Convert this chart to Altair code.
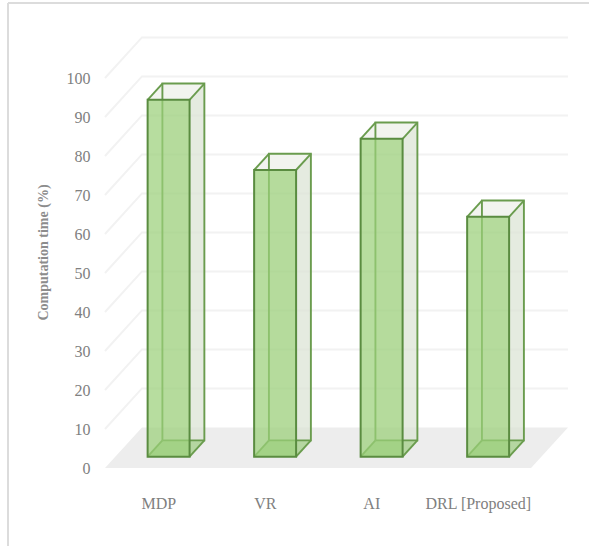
import altair as alt
import pandas as pd

# Chart values
categories = ["MDP", "VR", "AI", "DRL [Proposed]"]
computation_time = [91.5, 73.5, 81.5, 61.5]
value_ticks = [0, 10, 20, 30, 40, 50, 60, 70, 80, 90, 100]

# Oblique 3D projection, expressed in data units
DEPTH_X = 0.347      # category units gained across the full floor depth
DEPTH_Y = 10.4       # percent units gained across the full floor depth
FRONT, BACK = 0.28, 0.68   # depth span of a column
HALF = 0.197         # half a column's width, in category units
N = len(categories)


def px(u, d):
    return u + d * DEPTH_X


def py(v, d):
    return v + d * DEPTH_Y


axis_font = "Liberation Sans Narrow"
cat_positions = [i + 0.5 for i in range(N)]
label_lookup = "['" + "','".join(categories) + "'][floor(datum.value)]"

x_scale = alt.Scale(domain=[0, N + DEPTH_X], range=[0, 463], nice=False, zero=False)
y_scale = alt.Scale(domain=[0, 432 / 3.9], range=[432, 0], nice=False, zero=False)
x_axis = alt.Axis(
    values=cat_positions, labelExpr=label_lookup, title=None, domain=False,
    ticks=False, grid=False, labelPadding=27, labelFont=axis_font, labelFontSize=16,
    labelColor="#808080", labelAngle=0,
)
y_axis = alt.Axis(
    values=value_ticks, title="Computation time (%)", domain=False, ticks=False,
    grid=False, labelPadding=15, labelFont=axis_font, labelFontSize=16,
    labelColor="#808080", titleFont="Liberation Serif", titleFontSize=14,
    titleFontWeight="bold", titleColor="#8c8c8c", titlePadding=16,
)
X = alt.X("x:Q", scale=x_scale, axis=x_axis)
Y = alt.Y("y:Q", scale=y_scale, axis=y_axis)

# Wall and side grid lines
grid_rows = []
for t in value_ticks[1:]:
    for i, (u, d) in enumerate([(0, 0), (0, 1), (N, 1)]):
        grid_rows.append({"tick": t, "i": i, "x": px(u, d), "y": py(t, d)})
grid = alt.Chart(pd.DataFrame(grid_rows)).mark_line(
    color="#f2f2f2", strokeWidth=2
).encode(x=X, y=Y, detail="tick:N", order="i:Q")

# Floor
floor_df = pd.DataFrame([
    {"y": py(0, 0), "x": px(0, 0), "x2": px(N, 0)},
    {"y": py(0, 1), "x": px(0, 1), "x2": px(N, 1)},
])
floor = alt.Chart(floor_df).mark_area(orient="horizontal", color="#ededed").encode(
    x=X, x2="x2:Q", y=Y
)

# Column faces and edges
side_rows, bottom_rows, top_rows, front_rows, back_rows, edge_rows = [], [], [], [], [], []
for c, (name, v) in enumerate(zip(categories, computation_time)):
    lo, hi = c + 0.5 - HALF, c + 0.5 + HALF
    for d in (FRONT, BACK):
        side_rows.append({"c": name, "x": px(hi, d), "y": py(v, d), "y2": py(0, d)})
        bottom_rows.append({"c": name, "y": py(0, d), "x": px(lo, d), "x2": px(hi, d)})
        top_rows.append({"c": name, "y": py(v, d), "x": px(lo, d), "x2": px(hi, d)})
    back_rows.append({"x": px(lo, BACK), "x2": px(hi, BACK), "y": py(0, BACK), "y2": py(v, BACK)})
    front_rows.append({"x": px(lo, FRONT), "x2": px(hi, FRONT), "y": py(0, FRONT), "y2": py(v, FRONT)})
    # wireframe polylines behind the front face
    paths = {
        "back": [(lo, BACK, 0), (lo, BACK, v), (hi, BACK, v), (hi, BACK, 0), (lo, BACK, 0)],
        "left_bottom": [(lo, FRONT, 0), (lo, BACK, 0)],
        "right_bottom": [(hi, FRONT, 0), (hi, BACK, 0)],
        "left_top": [(lo, FRONT, v), (lo, BACK, v)],
        "right_top": [(hi, FRONT, v), (hi, BACK, v)],
    }
    for key, pts in paths.items():
        for i, (u, d, lv) in enumerate(pts):
            edge_rows.append({"e": name + key, "i": i, "x": px(u, d), "y": py(lv, d)})

side = alt.Chart(pd.DataFrame(side_rows)).mark_area(color="#dbe2d4", opacity=0.6).encode(
    x=X, y=Y, y2="y2:Q", detail="c:N"
)
bottom = alt.Chart(pd.DataFrame(bottom_rows)).mark_area(
    orient="horizontal", color="#a5d08c", opacity=0.75
).encode(x=X, x2="x2:Q", y=Y, detail="c:N")
top = alt.Chart(pd.DataFrame(top_rows)).mark_area(
    orient="horizontal", color="#f2f4ef"
).encode(x=X, x2="x2:Q", y=Y, detail="c:N")
back_face = alt.Chart(pd.DataFrame(back_rows)).mark_rect(color="#dbe2d4", opacity=0.25).encode(
    x=X, x2="x2:Q", y=Y, y2="y2:Q"
)
front_face = alt.Chart(pd.DataFrame(front_rows)).mark_rect(
    color="#9bd07a", opacity=0.72
).encode(x=X, x2="x2:Q", y=Y, y2="y2:Q")
front_edge = alt.Chart(pd.DataFrame(front_rows)).mark_rect(
    fillOpacity=0, stroke="#5a8c40", strokeWidth=2
).encode(x=X, x2="x2:Q", y=Y, y2="y2:Q")
edges = alt.Chart(pd.DataFrame(edge_rows)).mark_line(
    color="#6a9c4e", strokeWidth=1.9
).encode(x=X, y=Y, detail="e:N", order="i:Q")

# Thin frame around the whole figure
anchor = pd.DataFrame({"a": [0]})
frame_left = alt.Chart(anchor).mark_rule(color="#dcdcdc", strokeWidth=2).encode(
    x=alt.value(-97), y=alt.value(-33), y2=alt.value(510)
)
frame_top = alt.Chart(anchor).mark_rule(color="#dcdcdc", strokeWidth=2).encode(
    x=alt.value(-97), x2=alt.value(484), y=alt.value(-33)
)

chart = alt.layer(
    grid, floor, side, back_face, bottom, top, edges, front_face, front_edge,
    frame_left, frame_top,
).properties(
    width=463, height=432,
    padding={"left": 105, "top": 36, "right": 21, "bottom": 78},
    autosize=alt.AutoSizeParams(type="none"),
    background="#ffffff",
).configure_view(stroke=None)

chart.save("out.html", embed_options={"renderer": "svg", "actions": False})
